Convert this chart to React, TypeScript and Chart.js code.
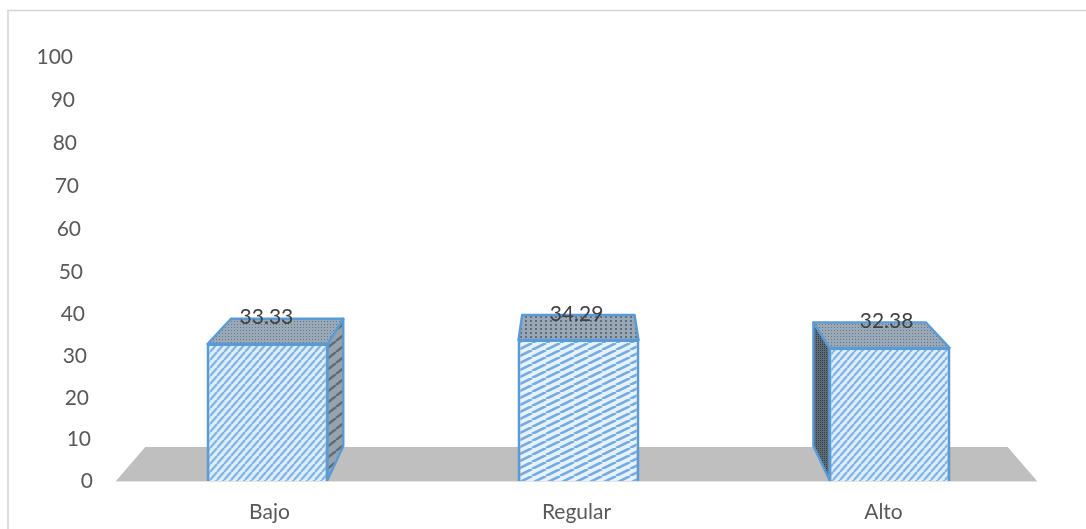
import React, { useEffect, useRef } from "react";
import { Chart, registerables } from "chart.js";

Chart.register(...registerables);

const categories = ["Bajo", "Regular", "Alto"];
const seriesValues = [33.33, 34.29, 32.38];
const valueLabels = ["33.33", "34.29", "32.38"];
const axisMax = 100;
const axisStep = 10;

const FONT = "Lato";
const EDGE = "#5B9BD5";
const VP_X = 576;
const VP_Y = -54;
const K = 0.0635;

function tile(w: number, h: number, paint: (c: CanvasRenderingContext2D) => void) {
  const cv = document.createElement("canvas");
  cv.width = w;
  cv.height = h;
  const c = cv.getContext("2d")!;
  paint(c);
  return c.createPattern(cv, "repeat")!;
}

function stripes(w: number, h: number, bg: string, fg: string, lw: number) {
  return tile(w, h, (c) => {
    c.fillStyle = bg;
    c.fillRect(0, 0, w, h);
    c.strokeStyle = fg;
    c.lineWidth = lw;
    for (const [ox, oy] of [[0, 0], [-w, 0], [w, 0]]) {
      c.beginPath();
      c.moveTo(ox, oy + h);
      c.lineTo(ox + w, oy);
      c.stroke();
    }
  });
}

function dots(w: number, h: number, bg: string, fg: string, s: number) {
  return tile(w, h, (c) => {
    c.fillStyle = bg;
    c.fillRect(0, 0, w, h);
    c.fillStyle = fg;
    c.fillRect(0, 0, s, s);
  });
}

const project = (x: number, y: number): [number, number] => [
  x + (VP_X - x) * K,
  y + (VP_Y - y) * K,
];

function poly(ctx: CanvasRenderingContext2D, pts: [number, number][], fill: any, stroke?: string) {
  ctx.beginPath();
  pts.forEach((p, i) => (i ? ctx.lineTo(p[0], p[1]) : ctx.moveTo(p[0], p[1])));
  ctx.closePath();
  ctx.fillStyle = fill;
  ctx.fill();
  if (stroke) {
    ctx.strokeStyle = stroke;
    ctx.lineWidth = 2.4;
    ctx.lineJoin = "round";
    ctx.stroke();
  }
}

function makeBoxPlugin(s: any) {
  return {
    id: "box3d",
    afterDatasetsUpdate(chart: any) {
      const meta = chart.getDatasetMeta(0);
      meta.data.forEach((el: any) => {
        el.x += 2 + (el.x - VP_X) * 0.013;
      });
    },
    beforeDatasetsDraw(chart: any) {
      const { ctx, chartArea: a } = chart;
      ctx.save();
      const bl = project(a.left, a.bottom);
      const br = project(a.right, a.bottom);
      poly(ctx, [[a.left, a.bottom], bl, br, [a.right, a.bottom]], "#BFBFBF");
      ctx.fillStyle = "#E4E4E4";
      ctx.fillRect(a.left, a.bottom, a.right - a.left, 1);
      chart.getDatasetMeta(0).data.forEach((el: any, i: number) => {
        const l = el.x - el.width / 2 + 1;
        const r = el.x + el.width / 2 - 1;
        const t = el.y + 1;
        const b = el.base - 1;
        if (l > VP_X) {
          poly(ctx, [[l, t], project(l, t), project(l, b), [l, b]], s.leftSide, EDGE);
        }
        if (r < VP_X) {
          poly(ctx, [[r, t], project(r, t), project(r, b), [r, b]], s.rightSide, EDGE);
        }
        poly(ctx, [[l, t], project(l, t), project(r, t), [r, t]], i === 1 ? s.topWide : s.top, EDGE);
      });
      ctx.restore();
    },
    afterDatasetsDraw(chart: any) {
      const { ctx } = chart;
      ctx.save();
      ctx.font = `21px ${FONT}`;
      ctx.fillStyle = "#404040";
      ctx.textAlign = "center";
      ctx.textBaseline = "middle";
      chart.getDatasetMeta(0).data.forEach((el: any, i: number) => {
        const cx = chart.scales.x.getPixelForValue(i);
        const backY = project(cx, el.y + 1)[1];
        ctx.fillText(valueLabels[i], cx + (cx - VP_X) * 0.01, backY - 1);
      });
      ctx.restore();
    },
    afterDraw(chart: any) {
      const { ctx, scales } = chart;
      ctx.save();
      ctx.strokeStyle = "#D4D4D4";
      ctx.lineWidth = 1.5;
      ctx.beginPath();
      ctx.moveTo(8, chart.height);
      ctx.lineTo(8, 10.5);
      ctx.lineTo(chart.width, 10.5);
      ctx.stroke();
      ctx.font = `21px ${FONT}`;
      ctx.fillStyle = "#595959";
      ctx.textAlign = "right";
      ctx.textBaseline = "middle";
      scales.y.ticks.forEach((t: any) => {
        const v = t.value;
        const y = scales.y.getPixelForValue(v) + 0.0012 * v * (axisMax - v);
        ctx.fillText(String(v), 93 - 0.2 * v, y);
      });
      ctx.restore();
    },
  };
}

export default function App() {
  const ref = useRef<HTMLCanvasElement>(null);
  useEffect(() => {
    document.body.style.margin = "0";
    const front = stripes(7, 8, "#DCEEFC", "#82B3E2", 2.2);
    const frontWide = stripes(14, 7, "#E6F1FA", "#74ACE2", 2.6);
    const skin = {
      top: dots(3, 3, "#9AA9B8", "#6A7682", 1),
      topWide: dots(5, 4, "#98A7B6", "#626D78", 2),
      rightSide: stripes(14, 11, "#98A2AB", "#5A6B7A", 2.4),
      leftSide: dots(2, 2, "#5E6C78", "#363E46", 1),
    };
    const chart: any = new Chart(ref.current!, {
      type: "bar",
      data: {
        labels: categories,
        datasets: [
          {
            data: seriesValues,
            yAxisID: "yBar",
            backgroundColor: [front, frontWide, front],
            borderColor: EDGE,
            borderWidth: 3,
            barPercentage: 122 / 307,
            categoryPercentage: 1,
          },
        ],
      },
      options: {
        animation: false,
        responsive: false,
        layout: { padding: { top: 57, right: 49, left: 0, bottom: 0 } },
        plugins: { legend: { display: false }, title: { display: false }, tooltip: { enabled: false } },
        scales: {
          x: {
            grid: { display: false },
            border: { display: false },
            ticks: { color: "#595959", font: { family: FONT, size: 21 }, padding: 11 },
            afterFit: (s: any) => {
              s.height = 48;
            },
          },
          y: {
            min: 0,
            max: axisMax,
            grid: { display: false },
            border: { display: false },
            ticks: { stepSize: axisStep, display: false },
            afterFit: (s: any) => {
              s.width = 116;
            },
          },
          yBar: { min: 0, max: 102.4, display: false },
        },
      },
      plugins: [makeBoxPlugin(skin)],
    });
    return () => chart.destroy();
  }, []);
  return (
    <div style={{ position: "absolute", left: 0, top: 0, width: 1086, height: 529, background: "#fff" }}>
      <canvas ref={ref} width={1086} height={529} style={{ display: "block" }} />
    </div>
  );
}
